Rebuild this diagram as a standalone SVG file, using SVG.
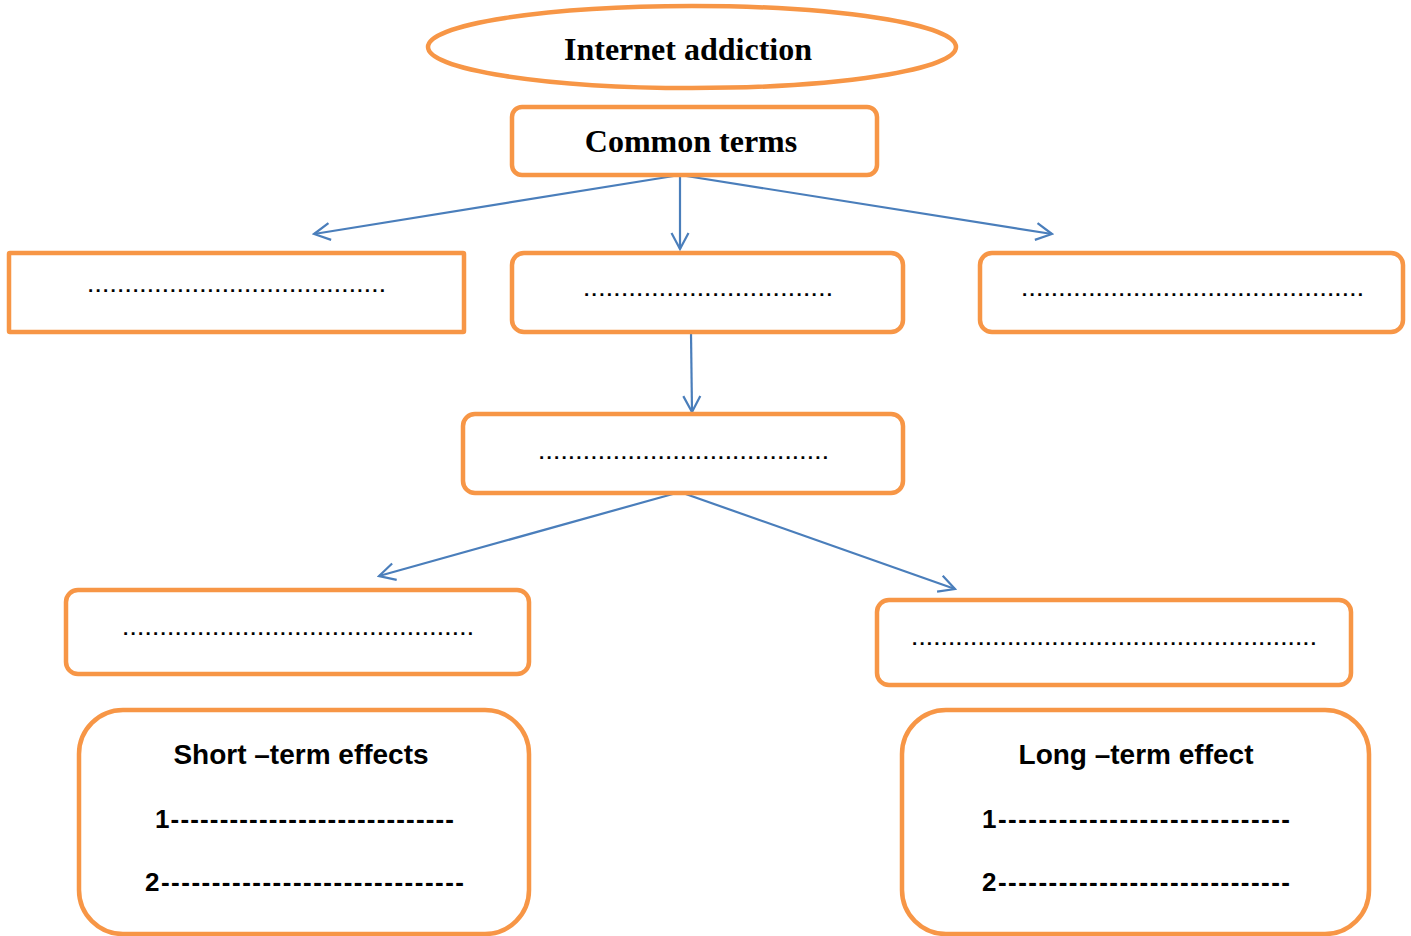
<svg xmlns="http://www.w3.org/2000/svg" width="1411" height="936" viewBox="0 0 1411 936">
<style>
.box{fill:#fff;stroke:#F79646;stroke-width:4.5}
.conn{stroke:#4A7EBB;stroke-width:2.2;fill:none;marker-end:url(#arr)}
.serif{font-family:"Liberation Serif","Times New Roman",serif;font-weight:bold;font-size:32px;fill:#000;text-anchor:middle}
.sans{font-family:"Liberation Sans",Arial,sans-serif;font-weight:bold;fill:#000}
.dots{font-family:"Liberation Sans",Arial,sans-serif;font-weight:bold;font-size:19px;fill:#000}
</style>
<defs>
<marker id="arr" viewBox="0 0 20 20" refX="18" refY="10" markerWidth="20" markerHeight="20" markerUnits="userSpaceOnUse" orient="auto">
<path d="M2,1.5 L18,10 L2,18.5" fill="none" stroke="#4A7EBB" stroke-width="2.2"/>
</marker>
</defs>
<rect width="1411" height="936" fill="#fff"/>
<g id="connectors">
<line class="conn" x1="680" y1="175" x2="314" y2="234"/>
<line class="conn" x1="680" y1="175" x2="680" y2="249"/>
<line class="conn" x1="680" y1="175" x2="1052" y2="234"/>
<line class="conn" x1="691" y1="333" x2="692" y2="412"/>
<line class="conn" x1="680" y1="492" x2="379" y2="576"/>
<line class="conn" x1="680" y1="492" x2="955" y2="589"/>
</g>
<g id="internet-addiction">
<ellipse class="box" cx="692" cy="47" rx="264" ry="41"/>
<text class="serif" x="688" y="60">Internet addiction</text>
</g>
<g id="common-terms">
<rect class="box" x="512" y="107" width="365" height="68" rx="10"/>
<text class="serif" x="691" y="152">Common terms</text>
</g>
<g id="term-left">
<rect class="box" x="9" y="253" width="455" height="79" rx="1"/>
<text class="dots" x="88" y="292" textLength="297" lengthAdjust="spacing">........................................</text>
</g>
<g id="term-middle">
<rect class="box" x="512" y="253" width="391" height="79" rx="12"/>
<text class="dots" x="584" y="296" textLength="248" lengthAdjust="spacing">.................................</text>
</g>
<g id="term-right">
<rect class="box" x="980" y="253" width="423" height="79" rx="12"/>
<text class="dots" x="1022" y="296" textLength="341" lengthAdjust="spacing">..............................................</text>
</g>
<g id="middle-node">
<rect class="box" x="463" y="414" width="440" height="79" rx="12"/>
<text class="dots" x="539" y="459" textLength="289" lengthAdjust="spacing">.......................................</text>
</g>
<g id="left-node">
<rect class="box" x="66" y="590" width="463" height="84" rx="12"/>
<text class="dots" x="123" y="635" textLength="350" lengthAdjust="spacing">...............................................</text>
</g>
<g id="right-node">
<rect class="box" x="877" y="600" width="474" height="85" rx="12"/>
<text class="dots" x="912" y="645" textLength="404" lengthAdjust="spacing">.......................................................</text>
</g>
<g id="short-term">
<rect class="box" x="79" y="710" width="450" height="224" rx="44"/>
<text class="sans" x="301" y="764" font-size="28" text-anchor="middle">Short –term effects</text>
<text class="sans" x="155" y="828" font-size="26" textLength="299" lengthAdjust="spacing">1-----------------------------</text>
<text class="sans" x="145" y="891" font-size="26" textLength="319" lengthAdjust="spacing">2------------------------------</text>
</g>
<g id="long-term">
<rect class="box" x="902" y="710" width="467" height="224" rx="44"/>
<text class="sans" x="1136" y="764" font-size="28" text-anchor="middle">Long –term effect</text>
<text class="sans" x="982" y="828" font-size="26" textLength="308" lengthAdjust="spacing">1-----------------------------</text>
<text class="sans" x="982" y="891" font-size="26" textLength="308" lengthAdjust="spacing">2-----------------------------</text>
</g>
</svg>
